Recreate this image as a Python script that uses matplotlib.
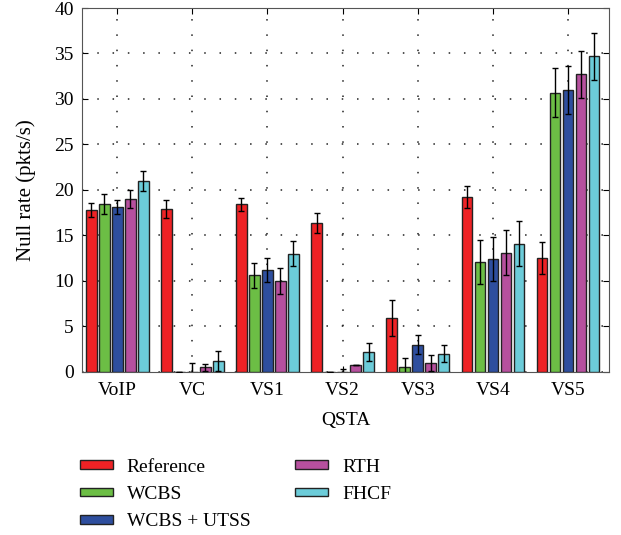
import matplotlib.pyplot as plt
import numpy as np

plt.rcParams['font.family'] = ['Liberation Serif', 'DejaVu Serif']

categories = ['VoIP', 'VC', 'VS1', 'VS2', 'VS3', 'VS4', 'VS5']
series = ['Reference', 'WCBS', 'WCBS + UTSS', 'RTH', 'FHCF']
colors = ['#ee2225', '#6cbe45', '#2e4e9e', '#b6509e', '#6cccd9']

reference = [17.8, 17.9, 18.4, 16.4, 5.9, 19.2, 12.5]
reference_err = [0.8, 1.0, 0.7, 1.1, 2.0, 1.2, 1.75]
wcbs = [18.5, 0.0, 10.6, 0.0, 0.5, 12.1, 30.7]
wcbs_err = [1.1, 0.0, 1.4, 0.0, 1.0, 2.4, 2.7]
utss = [18.1, 0.0, 11.2, 0.0, 3.0, 12.4, 31.0]
utss_err = [0.8, 1.0, 1.3, 0.3, 1.0, 2.45, 2.65]
rth = [19.0, 0.5, 10.0, 0.8, 1.0, 13.1, 32.7]
rth_err = [1.0, 0.4, 1.4, 0.0, 0.9, 2.45, 2.6]
fhcf = [21.0, 1.2, 13.0, 2.2, 2.0, 14.1, 34.7]
fhcf_err = [1.1, 1.1, 1.4, 1.0, 0.95, 2.45, 2.6]

values = [reference, wcbs, utss, rth, fhcf]
errors = [reference_err, wcbs_err, utss_err, rth_err, fhcf_err]

fig = plt.figure(figsize=(6.21, 5.35), dpi=100)
ax = fig.add_axes([0.132, 0.305, 0.849, 0.68])

x = np.arange(len(categories))
step = 0.173
width = 0.14
for i, (name, vals, errs, c) in enumerate(zip(series, values, errors, colors)):
    pos = x + (i - 2) * step
    ax.bar(pos, vals, width, color=c, edgecolor='#222222', linewidth=1.0,
           label=name, zorder=3)
    ax.errorbar(pos, vals, yerr=errs, fmt='none', ecolor='black',
                elinewidth=1.0, capsize=2.5, capthick=1.0, zorder=4)

ax.set_xlim(-0.47, 6.55)
ax.set_ylim(0, 40)
ax.set_yticks(range(0, 41, 5))
ax.set_xticks(x)
ax.set_xticklabels(categories)
ax.tick_params(direction='in', top=True, right=True, labelsize=14, length=4)
ax.tick_params(axis='x', pad=7)
ax.tick_params(axis='y', pad=6)
ax.grid(True, linestyle=(0, (1, 9)), color='#222222', linewidth=1.1, zorder=0)
ax.set_axisbelow(True)
for s in ax.spines.values():
    s.set_color('#555555')
ax.set_xlabel('QSTA', fontsize=14, labelpad=10)
ax.set_ylabel('Null rate (pkts/s)', fontsize=15, labelpad=13)

fig.legend(loc='upper left', bbox_to_anchor=(0.1, 0.175), ncol=2,
           frameon=False, fontsize=14, handlelength=1.7, handleheight=0.32,
           handletextpad=0.72, columnspacing=2.3, labelspacing=0.52)

fig.savefig('out.png', dpi=100)
